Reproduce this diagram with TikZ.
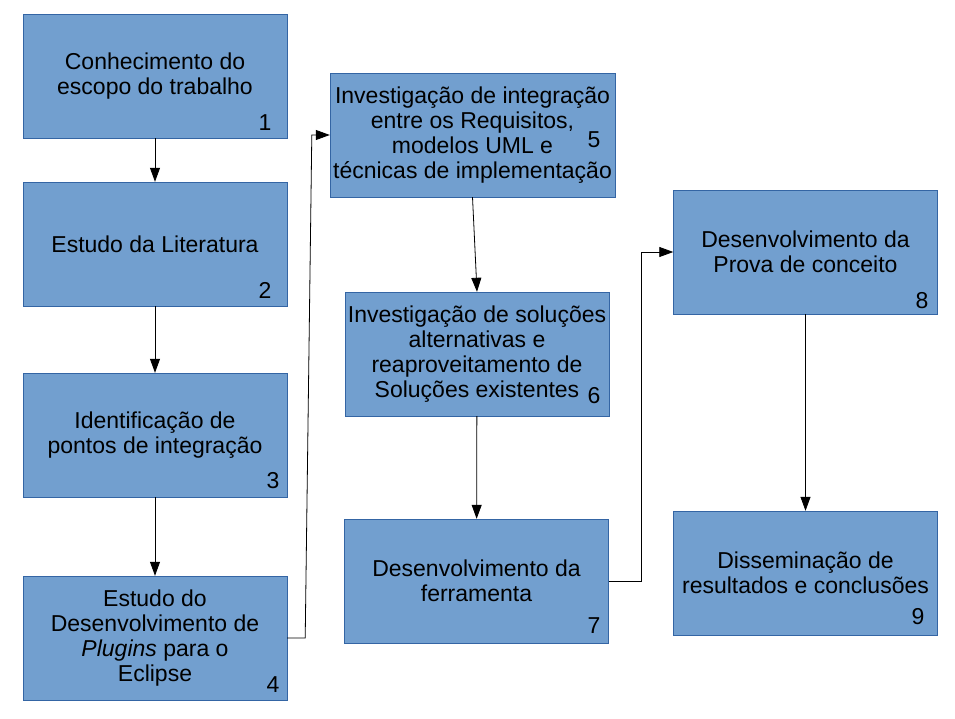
\documentclass[tikz,border=0pt]{standalone}
\usepackage{fontspec}
\setmainfont{Liberation Sans}
\usetikzlibrary{arrows.meta}
\definecolor{boxfill}{HTML}{729FCF}
\definecolor{boxline}{HTML}{3465A4}

\begin{document}
\begin{tikzpicture}[x=1pt, y=-1pt,
    every node/.style={font=\fontsize{23}{25}\selectfont},
    box/.style={draw=boxline, fill=boxfill, minimum width=264, minimum height=124, inner sep=0, align=center},
    num/.style={inner sep=0},
    flow/.style={-{Triangle[length=14pt, width=10pt]}, line width=0.8pt}]
    \useasboundingbox (0, 0) rectangle (955, 719);

    \node [box] (n1) at (155, 76) {Conhecimento do\\escopo do trabalho};
    \node [box] (n2) at (155, 244) {Estudo da Literatura};
    \node [box] (n3) at (155, 435) {Identificação de\\pontos de integração};
    \node [box] (n4) at (155, 638) {Estudo do\\Desenvolvimento de\\\textit{Plugins} para o\\Eclipse};
    \node [box, minimum width=285] (n5) at (472.5, 135) {Investigação de integração\\entre os Requisitos,\\modelos UML e\\técnicas de implementação};
    \node [box] (n6) at (477, 354) {Investigação de soluções\\alternativas e\\reaproveitamento de\\Soluções existentes};
    \node [box] (n7) at (476.5, 581) {Desenvolvimento da\\ferramenta};
    \node [box] (n8) at (805.5, 252) {Desenvolvimento da\\Prova de conceito};
    \node [box] (n9) at (805.5, 573) {Disseminação de\\resultados e conclusões};

    \node [num] (k1) at (265, 123) {1};
    \node [num] (k2) at (265, 290) {2};
    \node [num] (k3) at (273, 481) {3};
    \node [num] (k4) at (273, 685) {4};
    \node [num] (k5) at (594, 140) {5};
    \node [num] (k6) at (594, 396) {6};
    \node [num] (k7) at (594, 626) {7};
    \node [num] (k8) at (922, 301) {8};
    \node [num] (k9) at (918, 617) {9};

    \draw [flow] (n1) to (n2);
    \draw [flow] (n2) to (n3);
    \draw [flow] (n3) to (n4);
    \draw [flow] (n4.east) -- ++(18, 0) -- ([xshift=-18]n5.west) -- (n5.west);
    \draw [flow] (n5.south) to (n6.north);
    \draw [flow] (n6) to (n7);
    \draw [flow] (n7.east) -- ++(33, 0) |- (n8.west);
    \draw [flow] (n8) to (n9);
  \end{tikzpicture}
\end{document}
